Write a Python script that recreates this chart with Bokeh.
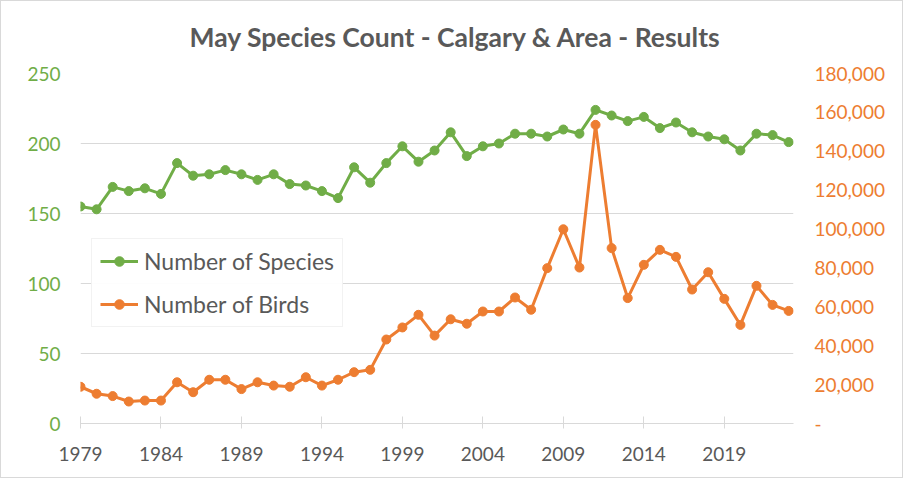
from bokeh.plotting import figure
from bokeh.models import (Range1d, LinearAxis, FixedTicker, Legend, LegendItem,
                          NumeralTickFormatter, ColumnDataSource)
from bokeh.embed import file_html
from bokeh.resources import INLINE

years = list(range(1979, 2024))
species = [155, 153, 169, 166, 168, 164, 186, 177, 178, 181,
           178, 174, 178, 171, 170, 166, 161, 183, 172, 186,
           198, 187, 195, 208, 191, 198, 200, 207, 207, 205,
           210, 207, 224, 220, 216, 219, 211, 215, 208, 205,
           203, 195, 207, 206, 201]
birds = [18900, 15300, 14100, 11300, 11800, 11800, 21200, 16100, 22500, 22500,
         17700, 21200, 19500, 18900, 23800, 19500, 22500, 26400, 27600, 43200,
         49400, 55900, 45200, 53600, 51300, 57600, 57600, 64800, 58500, 79900,
         99900, 80200, 153600, 90200, 64500, 81600, 89300, 85700, 68900, 77800,
         64100, 50700, 70800, 61000, 57900]
x_ticks = [1979, 1984, 1989, 1994, 1999, 2004, 2009, 2014, 2019]
left_ticks = [0, 50, 100, 150, 200, 250]
right_ticks = [0, 20000, 40000, 60000, 80000, 100000, 120000, 140000, 160000, 180000]
title_text = "May Species Count - Calgary & Area - Results"

GREEN = "#70AD47"
ORANGE = "#ED7D31"
GRAY = "#595959"
GRID = "#D9D9D9"
FONT = "Lato"

src = ColumnDataSource(dict(year=years, species=species, birds=birds))

p = figure(width=903, height=478, output_backend="svg", toolbar_location=None,
           x_range=Range1d(1979, 2023.3), y_range=Range1d(0, 250),
           min_border_left=79, min_border_right=111, min_border_top=72,
           min_border_bottom=56)
p.extra_y_ranges = {"birds": Range1d(0, 180000)}

p.title.text = title_text
p.title.text_font = FONT
p.title.text_font_size = "26.5px"
p.title.text_font_style = "bold"
p.title.text_color = GRAY
p.title.align = "left"
p.title.offset = 109
p.title.vertical_align = "top"
p.title.standoff = 38

p.outline_line_color = None
p.xgrid.grid_line_color = None
p.ygrid.grid_line_color = GRID
p.ygrid.ticker = FixedTicker(ticks=left_ticks)

# x axis
xa = p.xaxis[0]
xa.ticker = FixedTicker(ticks=x_ticks)
xa.axis_line_color = GRID
xa.major_tick_line_color = GRID
xa.major_tick_in = 7
xa.major_tick_out = 5
xa.minor_tick_line_color = None
xa.major_label_text_color = GRAY
xa.major_label_text_font = FONT
xa.major_label_text_font_size = "19px"
xa.major_label_standoff = 18

# left axis
ya = p.yaxis[0]
ya.ticker = FixedTicker(ticks=left_ticks)
ya.axis_line_color = None
ya.major_tick_line_color = None
ya.major_tick_out = 0
ya.major_tick_in = 0
ya.minor_tick_line_color = None
ya.major_label_text_color = GREEN
ya.major_label_text_font = FONT
ya.major_label_text_font_size = "19px"
ya.major_label_standoff = 20

# right axis
ra = LinearAxis(y_range_name="birds", ticker=FixedTicker(ticks=right_ticks),
                formatter=NumeralTickFormatter(format="0,0"))
ra.major_label_overrides = {0: "-"}
ra.axis_line_color = None
ra.major_tick_line_color = None
ra.major_tick_out = 0
ra.major_tick_in = 0
ra.minor_tick_line_color = None
ra.major_label_text_color = ORANGE
ra.major_label_text_font = FONT
ra.major_label_text_font_size = "19px"
ra.major_label_standoff = 21
p.add_layout(ra, "right")

l1 = p.line("year", "species", source=src, color=GREEN, line_width=3)
s1 = p.scatter("year", "species", source=src, size=9, color=GREEN)
l2 = p.line("year", "birds", source=src, color=ORANGE, line_width=3, y_range_name="birds")
s2 = p.scatter("year", "birds", source=src, size=9, color=ORANGE, y_range_name="birds")

legend = Legend(items=[LegendItem(label="Number of Species", renderers=[l1, s1]),
                       LegendItem(label="Number of Birds", renderers=[l2, s2])],
                location=(11, 96))
legend.label_text_font = FONT
legend.label_text_font_size = "23px"
legend.label_text_color = GRAY
legend.border_line_color = "#E6E6E6"
legend.glyph_width = 38
legend.glyph_height = 24
legend.label_height = 24
legend.label_standoff = 6
legend.spacing = 15
legend.padding = 8
legend.margin = 0
p.add_layout(legend, "center")

p.styles = {"border": "1px solid #D9D9D9"}

open("out.html", "w").write(file_html(p, INLINE))
